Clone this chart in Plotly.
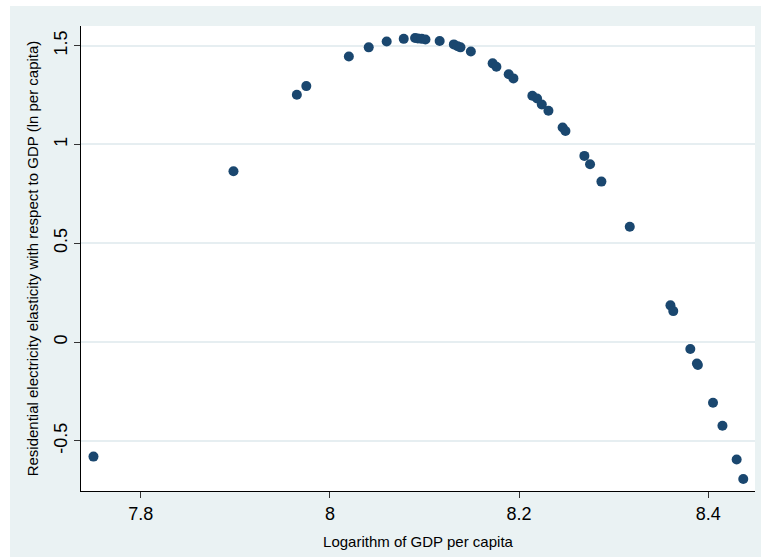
import plotly.graph_objects as go

# Data
log_gdp = [7.750, 7.898, 7.965, 7.975, 8.020, 8.041, 8.060, 8.078,
           8.090, 8.093, 8.097, 8.101, 8.116, 8.131, 8.135, 8.138,
           8.149, 8.172, 8.176, 8.189, 8.194, 8.214, 8.219, 8.224,
           8.231, 8.246, 8.249, 8.269, 8.275, 8.287, 8.317, 8.360,
           8.363, 8.381, 8.388, 8.389, 8.405, 8.415, 8.430, 8.437]
elasticity = [-0.579, 0.864, 1.251, 1.295, 1.445, 1.491, 1.521, 1.534,
              1.538, 1.536, 1.534, 1.531, 1.523, 1.506, 1.497, 1.491,
              1.470, 1.410, 1.393, 1.355, 1.334, 1.246, 1.232, 1.202,
              1.170, 1.086, 1.068, 0.942, 0.900, 0.812, 0.584, 0.186,
              0.157, -0.035, -0.108, -0.116, -0.307, -0.423, -0.594, -0.692]

x_ticks = [7.8, 8.0, 8.2, 8.4]
x_tick_labels = ["7.8", "8", "8.2", "8.4"]
y_ticks = [-0.5, 0.0, 0.5, 1.0, 1.5]
y_tick_labels = ["-0.5", "0", "0.5", "1", "1.5"]

BG = "#EAF2F3"
NAVY = "#1A476F"

fig = go.Figure()
fig.add_trace(go.Scatter(
    x=log_gdp, y=elasticity, mode="markers",
    marker=dict(color=NAVY, size=10, line=dict(width=0)),
    showlegend=False, hoverinfo="x+y",
))

W, H = 761, 557
ml, mr, mt, mb = 81, 6, 26, 66
pw, ph = W - ml - mr, H - mt - mb

fig.update_layout(
    width=W, height=H,
    margin=dict(l=ml, r=mr, t=mt, b=mb, pad=0),
    paper_bgcolor=BG, plot_bgcolor="white",
    font=dict(family="Liberation Sans, Arial, sans-serif", color="black"),
    xaxis=dict(
        range=[7.7368, 8.4494], tickvals=x_ticks, ticktext=x_tick_labels,
        showgrid=False, zeroline=False, showline=True, linecolor="black",
        linewidth=1, ticks="outside", ticklen=6, tickcolor="#333",
        tickfont=dict(size=18), automargin=False,
        title=dict(text="Logarithm of GDP per capita", font=dict(size=15), standoff=13),
    ),
    yaxis=dict(
        range=[-0.753, 1.599], tickvals=y_ticks, ticktext=y_tick_labels,
        tickangle=-90, automargin=False,
        showgrid=True, gridcolor="#E6EEF1", gridwidth=1.5,
        zeroline=False, showline=True, linecolor="black",
        linewidth=1, ticks="outside", ticklen=6, tickcolor="#333",
        tickfont=dict(size=18),
        title=dict(text="Residential electricity elasticity with respect to GDP (ln per capita)",
                   font=dict(size=15), standoff=8),
    ),
    shapes=[
        dict(type="rect", xref="paper", yref="paper", layer="below",
             x0=(0 - ml) / pw, x1=(10 - ml) / pw, y0=-mb / ph - 0.05, y1=1 + mt / ph + 0.05,
             fillcolor="white", line=dict(width=0)),
        dict(type="rect", xref="paper", yref="paper", layer="below",
             x0=(0 - ml) / pw, x1=1 + mr / pw + 0.05, y0=1 + (mt - 6) / ph, y1=1 + mt / ph + 0.05,
             fillcolor="white", line=dict(width=0)),
    ],
)

fig.write_html("out.html", config={"displayModeBar": False},
               post_script="document.body.style.margin='0';")
